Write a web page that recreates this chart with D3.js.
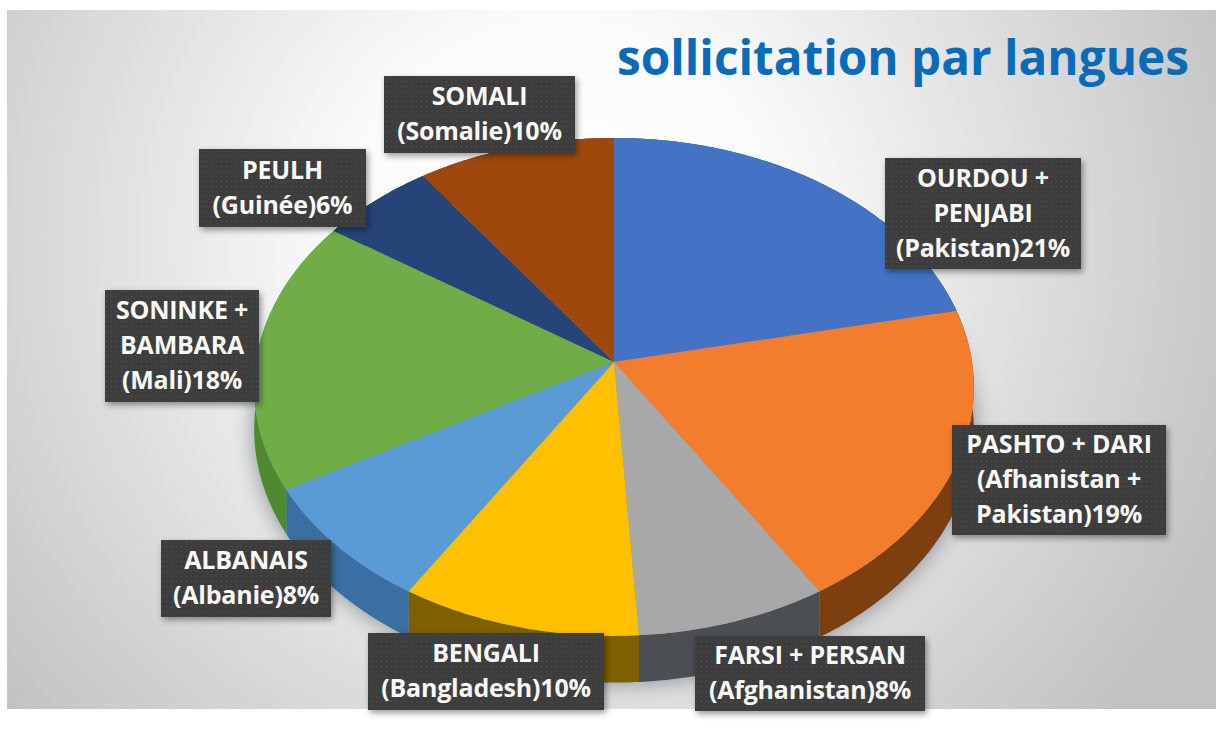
<!DOCTYPE html>
<html>
<head>
<meta charset="utf-8">
<script src="https://cdn.jsdelivr.net/npm/d3@7"></script>
<style>
  html, body { margin: 0; padding: 0; background: #fff; }
  svg { display: block; }
  text { font-family: "Open Sans", Lato, sans-serif; font-weight: 700; }
</style>
</head>
<body>
<div id="chart"></div>
<script>
// shares, the labels give the rounded number
const languages = ["OURDOU + PENJABI", "PASHTO + DARI", "FARSI + PERSAN", "BENGALI", "ALBANAIS", "SONINKE + BAMBARA", "PEULH", "SOMALI"];
const shares = [21.6, 19.6, 7.8, 9.8, 8, 17.7, 5.7, 9.8];
const labelLines = [
  ["OURDOU +", "PENJABI", "(Pakistan)21%"],
  ["PASHTO + DARI", "(Afhanistan +", "Pakistan)19%"],
  ["FARSI + PERSAN", "(Afghanistan)8%"],
  ["BENGALI", "(Bangladesh)10%"],
  ["ALBANAIS", "(Albanie)8%"],
  ["SONINKE +", "BAMBARA", "(Mali)18%"],
  ["PEULH", "(Guinée)6%"],
  ["SOMALI", "(Somalie)10%"]
];
const topColors = ["#4472c4", "#f27d2d", "#a8a8a8", "#ffc000", "#5b9bd5", "#70ad47", "#264478", "#9e480e"];
const wallColors = ["#2f5597", "#7c3f10", "#4b4e52", "#7f6000", "#3a6fa3", "#4f8a30", "#1a2f55", "#6b3009"];

// label boxes, placed by hand in the original: left, top, right, bottom
const labelBoxes = [
  [885, 158, 1081, 269],
  [952, 425, 1166, 535],
  [695, 636, 925, 711],
  [368, 633, 604, 710],
  [161, 540, 331, 617],
  [105, 290, 259, 402],
  [199, 149, 366, 227],
  [384, 76, 575, 153]
];

const width = 1218;
const height = 736;

// tilted disc, front edge comes closer to the camera
const apex = { x: 614, y: 362 };
const radiusX = 358;
const radiusY = 246.5;
const persp = 0.1;
const depth = 42;

const svg = d3.select("#chart").append("svg")
    .attr("width", width)
    .attr("height", height);

const defs = svg.append("defs");

const bg = defs.append("radialGradient")
    .attr("id", "bg")
    .attr("gradientUnits", "userSpaceOnUse")
    .attr("cx", 560).attr("cy", 240).attr("r", 720);
bg.append("stop").attr("offset", "0%").attr("stop-color", "#ffffff");
bg.append("stop").attr("offset", "30%").attr("stop-color", "#fbfbfb");
bg.append("stop").attr("offset", "100%").attr("stop-color", "#c2c2c2");

const blur = defs.append("filter").attr("id", "pieShadow")
    .attr("x", "-20%").attr("y", "-20%").attr("width", "140%").attr("height", "140%");
blur.append("feGaussianBlur").attr("stdDeviation", 11);

const boxShadow = defs.append("filter").attr("id", "boxShadow")
    .attr("x", "-15%").attr("y", "-20%").attr("width", "130%").attr("height", "140%");
boxShadow.append("feDropShadow")
    .attr("dx", 2).attr("dy", 3).attr("stdDeviation", 3)
    .attr("flood-color", "#000").attr("flood-opacity", 0.4);

const dots = defs.append("pattern").attr("id", "dots")
    .attr("width", 5).attr("height", 5).attr("patternUnits", "userSpaceOnUse");
dots.append("rect").attr("width", 5).attr("height", 5).attr("fill", "#3e3e3e");
dots.append("circle").attr("cx", 1.5).attr("cy", 1.5).attr("r", 0.7).attr("fill", "#4e4e4e");

svg.append("rect")
    .attr("x", 7).attr("y", 10)
    .attr("width", 1209).attr("height", 699)
    .attr("fill", "url(#bg)");

// angle on the disc -> screen position
function project(angle, drop) {
  const u = Math.sin(angle);
  const v = -Math.cos(angle);
  const w = 1 - persp * v;
  return [
    apex.x + radiusX * u / w,
    apex.y + radiusY * v / w + (drop ? depth / w : 0)
  ];
}

const line = d3.line();

function rim(a0, a1, drop) {
  const n = Math.max(2, Math.ceil((a1 - a0) / 0.01));
  return d3.range(n + 1).map(i => project(a0 + (a1 - a0) * i / n, drop));
}

const arcs = d3.pie().sort(null)(shares);

// soft shadow under the whole pie
svg.append("path")
    .attr("d", line(rim(0, 2 * Math.PI, true)) + "Z")
    .attr("fill", "#4f5a68")
    .attr("opacity", 0.65)
    .attr("filter", "url(#pieShadow)");

// side walls, the top faces hide the part at the back
svg.append("g").selectAll("path")
    .data(arcs)
    .join("path")
    .attr("d", d => line(rim(d.startAngle, d.endAngle, false).concat(rim(d.startAngle, d.endAngle, true).reverse())) + "Z")
    .attr("fill", (d, i) => wallColors[i]);

// top faces
svg.append("g").selectAll("path")
    .data(arcs)
    .join("path")
    .attr("d", d => line([[apex.x, apex.y]].concat(rim(d.startAngle, d.endAngle, false))) + "Z")
    .attr("fill", (d, i) => topColors[i]);

// labels
const labels = svg.append("g").selectAll("g")
    .data(languages)
    .join("g");

labels.append("rect")
    .attr("x", (d, i) => labelBoxes[i][0])
    .attr("y", (d, i) => labelBoxes[i][1])
    .attr("width", (d, i) => labelBoxes[i][2] - labelBoxes[i][0])
    .attr("height", (d, i) => labelBoxes[i][3] - labelBoxes[i][1])
    .attr("fill", "url(#dots)")
    .attr("filter", "url(#boxShadow)");

const lineHeight = 35;
labels.each(function (d, i) {
  const box = labelBoxes[i];
  const lines = labelLines[i];
  const midY = (box[1] + box[3]) / 2;
  d3.select(this).selectAll("text")
    .data(lines)
    .join("text")
    .attr("x", (box[0] + box[2]) / 2)
    .attr("y", (t, k) => midY + (k - (lines.length - 1) / 2) * lineHeight + 8)
    .attr("text-anchor", "middle")
    .attr("font-size", 25)
    .attr("letter-spacing", "-0.2px")
    .attr("fill", "#f8f8f8")
    .text(t => t);
});

svg.append("text")
    .attr("x", 617)
    .attr("y", 75)
    .attr("font-size", 47.7)
    .attr("fill", "#0a6cb8")
    .text("sollicitation par langues");
</script>
</body>
</html>
